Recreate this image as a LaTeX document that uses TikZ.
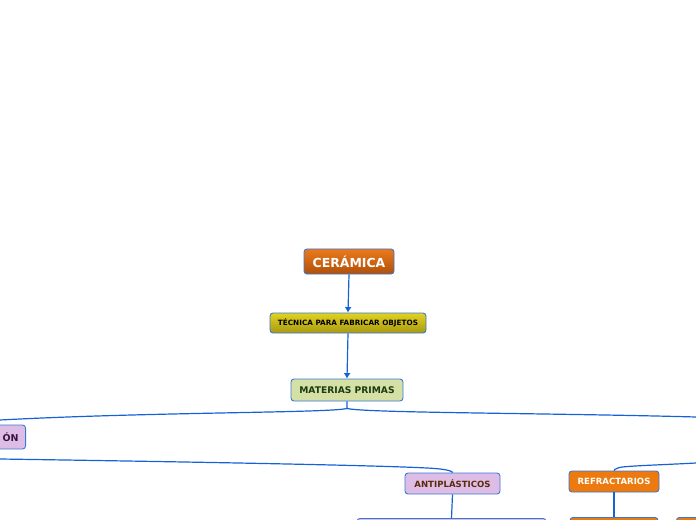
\documentclass[tikz,border=0pt]{standalone}
\usepackage{fontspec}
\setmainfont{DejaVu Sans}
\usetikzlibrary{arrows.meta}
\definecolor{linkblue}{HTML}{1462D6}
\definecolor{boxblue}{HTML}{3A78D8}
\definecolor{orangetop}{HTML}{EA7A1C}
\definecolor{orangebot}{HTML}{B0500A}
\definecolor{refrorange}{HTML}{EC7A0E}
\definecolor{yellowtop}{HTML}{E2D222}
\definecolor{yellowbot}{HTML}{A89A10}
\definecolor{mpgreen}{HTML}{D5E0A5}
\definecolor{mptext}{HTML}{1C3A12}
\definecolor{lila}{HTML}{DDBDE5}
\definecolor{lilatext}{HTML}{3A1040}
\definecolor{antitext}{HTML}{5A2A0A}
\begin{document}
\begin{tikzpicture}[x=1bp,y=-1bp,
  caja/.style={draw=boxblue,line width=0.9bp,rounded corners=3bp,font=\bfseries,inner sep=0pt},
  enlace/.style={draw=linkblue,line width=1.2bp},
  flecha/.style={enlace,-{Latex[length=5.5bp,width=7bp]}}]
\useasboundingbox (0,0) rectangle (696,520);
\clip (0,0) rectangle (696,520);

% nodos principales
\node[caja,top color=orangetop,bottom color=orangebot,text=white,
  minimum width=90bp,minimum height=25bp,font=\fontsize{12.5}{14}\bfseries] (ceramica) at (349,261.5) {CERÁMICA};
\node[caja,top color=yellowtop,bottom color=yellowbot,text=black,
  minimum width=156bp,minimum height=20bp,font=\fontsize{7.3}{8}\bfseries] (tecnica) at (348,323) {TÉCNICA PARA FABRICAR OBJETOS};
\node[caja,fill=mpgreen,text=mptext,
  minimum width=112bp,minimum height=22bp,font=\fontsize{9.2}{10}\bfseries] (materias) at (347,390) {MATERIAS PRIMAS};

% ramas
\node[caja,fill=lila,text=lilatext,anchor=east,text width=70bp,align=right,
  minimum height=24bp,font=\fontsize{9.5}{11}\bfseries] (plasticos) at (26,437) {ÓN\hspace*{7bp}};
\node[caja,fill=lila,text=antitext,
  minimum width=95bp,minimum height=21bp,font=\fontsize{8.6}{10}\bfseries] (antiplasticos) at (452.5,483.5) {ANTIPLÁSTICOS};
\node[caja,fill=refrorange,text=white,
  minimum width=90bp,minimum height=21bp,font=\fontsize{8.6}{10}\bfseries] (refractarios) at (614,481.5) {REFRACTARIOS};

% hojas cortadas por el borde
\node[caja,fill=lila,anchor=north,minimum width=189bp,minimum height=20bp] (antihoja) at (451.5,518) {};
\node[caja,fill=refrorange,anchor=north,minimum width=88bp,minimum height=20bp] (refrhoja) at (614,517) {};
\node[caja,fill=refrorange,anchor=north west,minimum width=40bp,minimum height=20bp] (otrahoja) at (676,517) {};

% extremos fuera del dibujo
\coordinate (izq1) at (-40,421);
\coordinate (izq2) at (-40,458.5);
\coordinate (der1) at (740,417.5);
\coordinate (der2) at (740,462);

% conectores
\draw[flecha] (ceramica.south) -- (tecnica.north);
\draw[flecha] (tecnica.south) -- (materias.north);
\draw[enlace] (materias.south) -- ++(0,7) coordinate (nudo)
  .. controls (330,413) and (150,412) .. (0,420) -- (izq1);
\draw[enlace] (nudo) .. controls (365,413) and (550,413) .. (696,417) -- (der1);
\draw[enlace] (izq2) -- (0,459) .. controls (200,462) and (420,466) .. (440,469)
  .. controls (448,470) and (452,471) .. (antiplasticos.north);
\draw[enlace] (der2) -- (696,463) .. controls (660,465) and (620,466) .. (618,468)
  .. controls (615,469) and (614,470) .. (refractarios.north);
\draw[enlace] (antiplasticos.south) -- (antihoja.north);
\draw[enlace] (refractarios.south) -- (refrhoja.north);
\end{tikzpicture}
\end{document}
